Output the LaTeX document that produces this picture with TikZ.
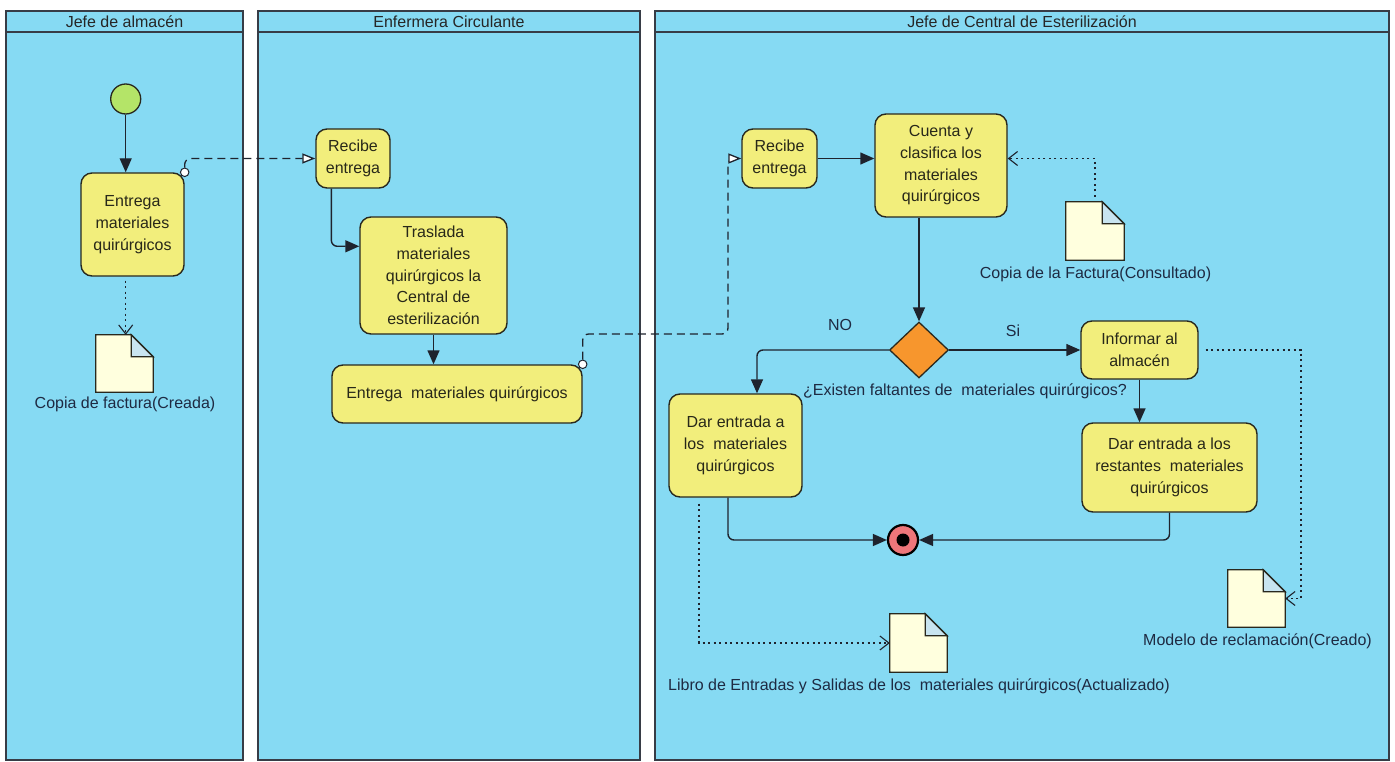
\documentclass[tikz,border=0pt]{standalone}
\usepackage{fontspec}
\setmainfont{Liberation Sans}
\usetikzlibrary{arrows.meta,shapes.geometric}

\definecolor{lanefill}{RGB}{134,218,243}
\definecolor{laneline}{RGB}{55,60,70}
\definecolor{actfill}{RGB}{242,238,124}
\definecolor{actline}{RGB}{40,40,30}
\definecolor{flowline}{RGB}{30,35,45}
\definecolor{startfill}{RGB}{180,228,104}
\definecolor{decfill}{RGB}{247,150,45}
\definecolor{endfill}{RGB}{238,118,122}
\definecolor{docfill}{RGB}{255,255,222}
\definecolor{flapfill}{RGB}{200,228,240}
\definecolor{labeltext}{RGB}{30,42,66}
\definecolor{acttext}{RGB}{40,40,25}

% object node drawn as a sheet with a folded corner
\newcommand{\foldeddoc}[1]{%
  \filldraw[fill=docfill, draw=actline, line width=1.3pt, line join=miter]
    (#1.north west) -- ([xshift=-22pt]#1.north east) -- ([yshift=-22pt]#1.north east)
    -- (#1.south east) -- (#1.south west) -- cycle;
  \filldraw[fill=flapfill, draw=actline, line width=1.3pt, line join=miter]
    ([xshift=-22pt]#1.north east) -- ([xshift=-22pt,yshift=-22pt]#1.north east)
    -- ([yshift=-22pt]#1.north east) -- cycle;
}

\begin{document}
\begin{tikzpicture}[x=1pt,y=-1pt,
  txt/.style={font=\fontsize{16}{21.7}\selectfont},
  lanebody/.style={draw=laneline, fill=lanefill, line width=1.3pt},
  lanehead/.style={draw=laneline, fill=lanefill, line width=1.3pt, inner sep=0pt,
    txt, text=black!85},
  act/.style={rectangle, rounded corners=11pt, draw=actline, fill=actfill,
    line width=1.4pt, align=center, inner sep=0pt, txt, text=acttext},
  lbl/.style={inner sep=0pt, txt, text=labeltext},
  docnode/.style={rectangle, inner sep=0pt, minimum width=57pt, minimum height=57pt},
  pin/.style={circle, draw=flowline, fill=white, line width=1pt, minimum size=8.5pt, inner sep=0pt},
  flow/.style={draw=flowline, line width=1.4pt, -{Triangle[length=14pt,width=12pt]}},
  objflow/.style={draw=flowline, line width=1.3pt, dash pattern=on 8pt off 5pt,
    -{Triangle[length=13pt,width=10pt,fill=white]}},
  dep/.style={draw=flowline, line width=1.3pt, dash pattern=on 2pt off 3.5pt,
    -{Straight Barb[length=9pt,width=14pt,line width=1.1pt]}},
]
\useasboundingbox (0,0) rectangle (1395,762);
\fill[white] (0,0) rectangle (1395,762);

% swimlanes
\draw[lanebody] (6,32) rectangle (243,760);
\draw[lanebody] (258,32) rectangle (640,760);
\draw[lanebody] (655,32) rectangle (1389,760);
\node[lanehead, minimum width=237pt, minimum height=21pt] (h1) at (124.5,21.5) {Jefe de almacén};
\node[lanehead, minimum width=382pt, minimum height=21pt] (h2) at (449,21.5) {Enfermera Circulante};
\node[lanehead, minimum width=734pt, minimum height=21pt] (h3) at (1022,21.5) {Jefe de Central de Esterilización};

% Jefe de almacén
\node[circle, draw=actline, fill=startfill, line width=1.3pt, minimum size=30pt, inner sep=0pt]
  (start) at (125.7,99) {};
\node[act, minimum width=103pt, minimum height=103pt] (a1) at (132.5,224.5)
  {Entrega\\materiales\\quirúrgicos};
\node[docnode] (doc1) at (124.5,363.5) {};
\node[lbl] (doc1l) at (125,404) {Copia de factura(Creada)};

% Enfermera Circulante
\node[act, minimum width=74pt, minimum height=59pt] (r1) at (353,158.5) {Recibe\\entrega};
\node[act, minimum width=147pt, minimum height=117pt] (t1) at (433.5,275.5)
  {Traslada\\materiales\\quirúrgicos la\\Central de\\esterilización};
\node[act, minimum width=250pt, minimum height=58pt] (e2) at (457,394)
  {Entrega~ materiales quirúrgicos};

% Jefe de Central de Esterilización
\node[act, minimum width=75pt, minimum height=59pt] (r2) at (779.5,158.5) {Recibe\\entrega};
\node[act, minimum width=132pt, minimum height=103pt] (c1) at (941,165.5)
  {Cuenta y\\clasifica los\\materiales\\quirúrgicos};
\node[docnode, minimum width=58pt, minimum height=58pt] (doc2) at (1095,231) {};
\node[lbl] (doc2l) at (1095.5,274) {Copia de la Factura(Consultado)};
\node[diamond, draw=actline, fill=decfill, line width=1.3pt, inner sep=0pt,
  minimum width=59pt, minimum height=56pt] (d) at (919,350) {};
\node[lbl] (lno) at (840,325) {NO};
\node[lbl] (lsi) at (1013,331) {Si};
\node[lbl] (lq) at (965,391) {¿Existen faltantes de~ materiales quirúrgicos?};
\node[act, minimum width=133pt, minimum height=103pt] (dn) at (735.5,445.5)
  {Dar entrada a\\los~ materiales\\quirúrgicos};
\node[act, minimum width=117pt, minimum height=58pt] (inf) at (1139.5,350)
  {Informar al\\almacén};
\node[act, minimum width=175pt, minimum height=89pt] (dr) at (1169.5,467.5)
  {Dar entrada a los\\restantes~ materiales\\quirúrgicos};
\node[circle, draw=black, fill=endfill, line width=2.2pt, minimum size=30pt, inner sep=0pt]
  (fin) at (903,540) {};
\fill[black] (fin.center) circle (6.5pt);
\node[docnode] (doc3) at (1256.5,598.5) {};
\node[lbl] (doc3l) at (1257.5,641) {Modelo de reclamación(Creado)};
\node[docnode, minimum height=58pt] (doc4) at (918.5,643) {};
\node[lbl] (doc4l) at (919,686) {Libro de Entradas y Salidas de los~ materiales quirúrgicos(Actualizado)};

\foldeddoc{doc1}
\foldeddoc{doc2}
\foldeddoc{doc3}
\foldeddoc{doc4}

% control flows
\draw[flow] (start) -- (start |- a1.north);
\draw[flow, rounded corners=6pt] ([xshift=16pt]r1.south west) |- ([yshift=-30pt]t1.north west);
\draw[flow] (t1.south) -- (t1.south |- e2.north);
\draw[flow] (r2.east) -- (r2.east -| c1.west);
\draw[flow] (d.north |- c1.south) -- (d.north);
\draw[flow, rounded corners=6pt] (d.west) -| ([xshift=21.5pt]dn.north);
\draw[flow] (d.east) -- (d.east -| inf.west);
\draw[flow] (inf.south) -- (inf.south |- dr.north);
\draw[flow, rounded corners=6pt] ([xshift=-7.5pt]dn.south) |- (fin.west);
\draw[flow, rounded corners=6pt] (dr.south) |- (fin.east);

% object flows between lanes
\node[pin] (o1) at (a1.north east) {};
\draw[objflow, rounded corners=6pt] (o1.north) |- (r1.west);
\node[pin] (o2) at (e2.north east) {};
\coordinate (bend2) at (728,334);
\draw[objflow] (o2.north) [rounded corners=6pt] |- (bend2) -- (bend2 |- r2.west) [sharp corners] -- (r2.west);

% documents created, read and updated
\draw[dep] ([yshift=-4pt]a1.south -| start) -- (doc1.north -| start);
\draw[dep, shorten <=5pt] (doc2.north) |- (c1.east |- r2.east);
\draw[dep] ([xshift=-36.5pt,yshift=-6pt]dn.south) |- (doc4.west);
\coordinate (c15) at (1301,350);
\draw[dep] ([xshift=7pt]inf.east) -- (c15) |- (doc3.east);
\end{tikzpicture}
\end{document}
